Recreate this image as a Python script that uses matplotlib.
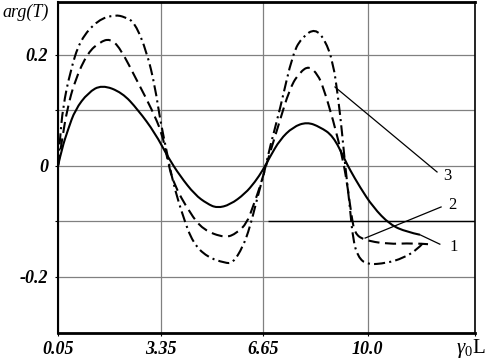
import numpy as np
import matplotlib
matplotlib.use("Agg")
import matplotlib.pyplot as plt
from matplotlib.path import Path
from matplotlib.patches import PathPatch

plt.rcParams["font.family"] = ["Liberation Serif", "DejaVu Serif"]
plt.rcParams["mathtext.fontset"] = "custom"
plt.rcParams["mathtext.rm"] = "Liberation Serif"
plt.rcParams["mathtext.it"] = "Liberation Serif:italic"
plt.rcParams["lines.scale_dashes"] = False

# curve 1 (solid)
x1 = [0.05, 0.18, 0.37, 0.60, 1.02, 1.46, 2.11, 2.62, 3.17, 3.58, 3.97, 4.45, 4.84,
      5.16, 5.58, 6.06, 6.38, 6.64, 6.86, 7.18, 7.60, 8.05, 8.47, 8.89, 9.27, 9.43,
      9.75, 10.17, 10.72, 11.26, 11.68]
y1 = [0.0, 0.032, 0.065, 0.101, 0.132, 0.146, 0.132, 0.101, 0.059, 0.016, -0.018,
      -0.052, -0.068, -0.076, -0.070, -0.050, -0.029, -0.007, 0.016, 0.047, 0.070,
      0.079, 0.070, 0.054, 0.011, -0.007, -0.038, -0.074, -0.106, -0.119, -0.124]

# curve 2 (dashed)
x2 = [0.05, 0.18, 0.34, 0.60, 1.01, 1.40, 1.72, 2.04, 2.62, 3.07, 3.39, 3.55, 3.75,
      4.29, 4.71, 5.42, 5.80, 6.12, 6.31, 6.54, 6.76, 7.09, 7.51, 7.83, 8.12, 8.40,
      8.57, 8.89, 9.21, 9.37, 9.50, 9.59, 9.85, 10.62, 11.46, 11.94]
y2 = [0.0, 0.047, 0.101, 0.155, 0.204, 0.223, 0.229, 0.213, 0.150, 0.101, 0.059,
      0.016, -0.031, -0.085, -0.115, -0.130, -0.121, -0.103, -0.074, -0.038, 0.005,
      0.065, 0.142, 0.169, 0.180, 0.164, 0.142, 0.083, 0.011, -0.043, -0.097, -0.121,
      -0.133, -0.141, -0.139, -0.141]

# curve 3 (dash-dot)
x3 = [0.05, 0.11, 0.21, 0.44, 0.76, 1.34, 1.88, 2.20, 2.52, 2.91, 3.17, 3.33, 3.58,
      3.75, 4.07, 4.39, 4.84, 5.42, 5.67, 5.99, 6.22, 6.44, 6.70, 6.86, 7.18, 7.60,
      7.92, 8.31, 8.63, 8.89, 9.05, 9.18, 9.27, 9.43, 9.53, 9.69, 9.98, 10.62, 11.14,
      11.59, 11.78]
y3 = [0.0, 0.047, 0.106, 0.169, 0.227, 0.263, 0.272, 0.268, 0.258, 0.204, 0.142,
      0.083, 0.016, -0.031, -0.092, -0.139, -0.164, -0.175, -0.175, -0.146, -0.110,
      -0.061, -0.007, 0.034, 0.101, 0.204, 0.233, 0.247, 0.227, 0.186, 0.124, 0.059,
      0.005, -0.074, -0.133, -0.164, -0.178, -0.175, -0.166, -0.151, -0.139]

# curve labels: (start on curve) -> (label position)
label_names = ["1", "2", "3"]
leader_from = [(11.68, -0.124), (9.92, -0.130), (8.95, 0.142)]
leader_to = [(12.32, -0.141), (12.36, -0.074), (12.23, -0.011)]
label_pos = [(12.62, -0.146), (12.58, -0.070), (12.44, -0.018)]

xticks = [0.05, 3.35, 6.65, 10.0, 13.45]
xticklabels = ["0.05", "3.35", "6.65", "10.0", ""]
xaxis_name = r"$\gamma_0\mathrm{L}$"
yticks = [-0.2, 0.0, 0.2]
yticklabels = ["-0.2", "0", "0.2"]
yminor = [-0.1, 0.1]


def smooth_curve(xs, ys):
    # quadratic bezier through midpoints, read points act as control points
    pts = np.column_stack([xs, ys])
    n = len(pts)
    verts = [pts[0]]
    codes = [Path.MOVETO]
    for i in range(1, n - 1):
        end = pts[-1] if i == n - 2 else (pts[i] + pts[i + 1]) / 2
        verts += [pts[i], end]
        codes += [Path.CURVE3, Path.CURVE3]
    return Path(verts, codes)


fig = plt.figure(figsize=(4.87, 3.6), dpi=100)
ax = fig.add_axes([58 / 487, 27.5 / 360, 417 / 487, 330.5 / 360])

styles = [(x1, y1, "-"), (x2, y2, (0, (8, 4))), (x3, y3, (0, (8, 3, 1.5, 3)))]
for xs, ys, ls in styles:
    ax.add_patch(PathPatch(smooth_curve(xs, ys), fill=False, edgecolor="black",
                           lw=1.5, linestyle=ls, capstyle="butt", zorder=3))

for (xa, ya), (xb, yb), (xl, yl), name in zip(leader_from, leader_to, label_pos, label_names):
    ax.plot([xa, xb], [ya, yb], color="black", lw=0.9)
    ax.text(xl, yl, name, fontsize=12, ha="left", va="center")

ax.set_xlim(0.05, 13.45)
ax.set_ylim(-0.3, 0.295)

ax.set_xticks(xticks)
ax.set_xticklabels(xticklabels, fontsize=13, style="italic", fontweight="bold")
ax.set_yticks(yticks)
ax.set_yticklabels(yticklabels, fontsize=13, style="italic", fontweight="bold")
ax.set_yticks(yminor, minor=True)
ax.tick_params(axis="both", which="both", direction="out", length=2, width=0.8)
ax.tick_params(axis="x", pad=4)
ax.tick_params(axis="y", pad=5)

ax.grid(True, which="both", color="#808080", lw=0.9)
ax.set_axisbelow(True)
ax.hlines(-0.1, 6.8, 13.45, color="black", lw=1.0)

for side, w in [("top", 2.0), ("bottom", 2.0), ("left", 1.5), ("right", 1.2)]:
    ax.spines[side].set_linewidth(w)
    ax.spines[side].set_color("black")

fig.text(2 / 487, 1 - 12 / 360, "arg(T)", fontsize=13, style="italic",
         ha="left", va="center")
fig.text(485 / 487, 1 - 349 / 360, xaxis_name, fontsize=15, ha="right", va="center")

fig.savefig("out.png", dpi=100)
